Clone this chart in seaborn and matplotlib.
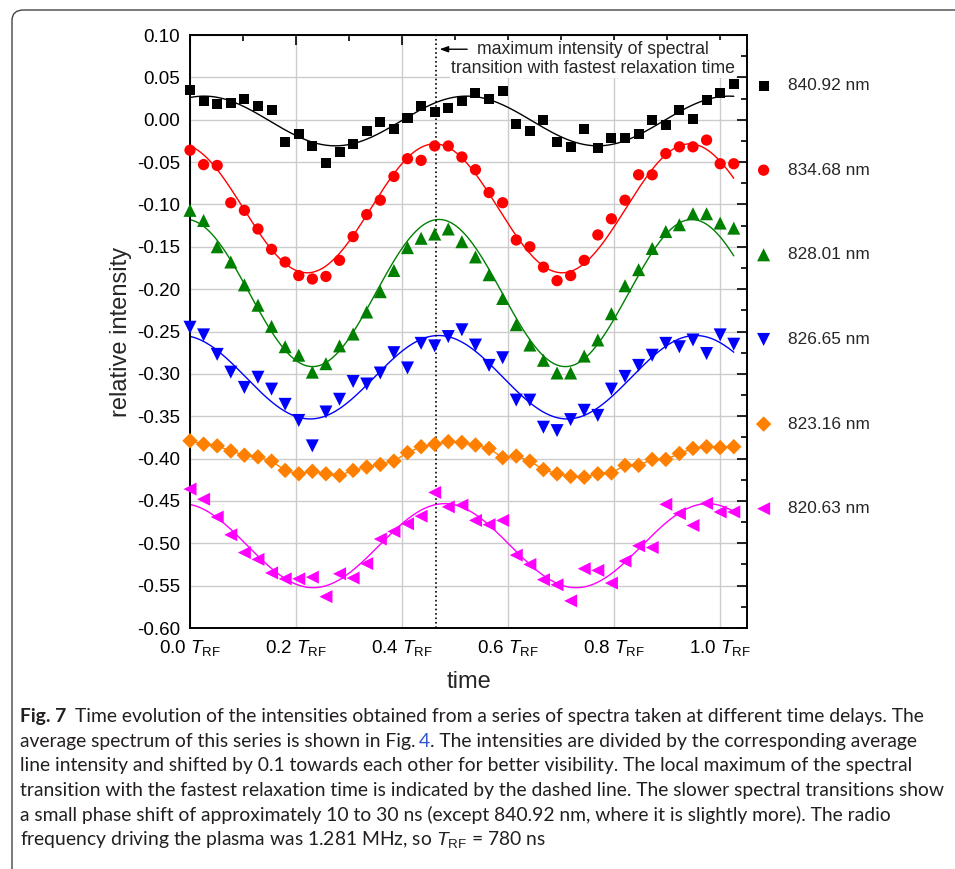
import numpy as np
import pandas as pd
import matplotlib
matplotlib.use('Agg')
import matplotlib.pyplot as plt
import seaborn as sns
from matplotlib.patches import FancyBboxPatch
from matplotlib.ticker import MultipleLocator, FixedLocator, FuncFormatter

# time delays of the spectra series (ns), T_RF = 780 ns
delay_ns = [0, 20, 40, 60, 80, 100, 120, 140, 160, 180, 200, 220, 240, 260, 280, 300,
            320, 340, 360, 380, 400, 420, 440, 460, 480, 500, 520, 540, 560, 580, 600,
            620, 640, 660, 680, 700, 720, 740, 760, 780, 800]
T_RF = 780.0

# relative intensities (already shifted by 0.1 towards each other)
i_840 = [0.035, 0.022, 0.0185, 0.020, 0.025, 0.0165, 0.012, -0.026, -0.017, -0.031, -0.051,
         -0.038, -0.029, -0.013, -0.0025, -0.011, 0.0025, 0.016, 0.0095, 0.014, 0.022, 0.032,
         0.024, 0.034, -0.005, -0.013, 0.0, -0.026, -0.032, -0.011, -0.033, -0.022, -0.022,
         -0.017, 0.0, -0.006, 0.0115, 0.001, 0.023, 0.032, 0.042]
i_834 = [-0.036, -0.053, -0.054, -0.098, -0.107, -0.129, -0.153, -0.168, -0.184, -0.188, -0.185,
         -0.166, -0.138, -0.112, -0.095, -0.067, -0.046, -0.048, -0.031, -0.031, -0.044, -0.059,
         -0.086, -0.098, -0.142, -0.150, -0.174, -0.190, -0.184, -0.166, -0.136, -0.117, -0.095,
         -0.065, -0.065, -0.040, -0.032, -0.032, -0.024, -0.052, -0.052]
i_828 = [-0.107, -0.119, -0.150, -0.168, -0.195, -0.219, -0.244, -0.268, -0.278, -0.298, -0.288,
         -0.267, -0.253, -0.227, -0.203, -0.178, -0.151, -0.140, -0.135, -0.129, -0.144, -0.162,
         -0.183, -0.211, -0.242, -0.266, -0.284, -0.299, -0.299, -0.279, -0.260, -0.229, -0.196,
         -0.177, -0.152, -0.132, -0.124, -0.111, -0.111, -0.122, -0.128]
i_826 = [-0.245, -0.254, -0.277, -0.298, -0.316, -0.304, -0.318, -0.336, -0.355, -0.385, -0.345,
         -0.330, -0.309, -0.312, -0.299, -0.275, -0.293, -0.264, -0.267, -0.256, -0.248, -0.266,
         -0.290, -0.281, -0.331, -0.331, -0.363, -0.367, -0.354, -0.343, -0.349, -0.318, -0.303,
         -0.290, -0.278, -0.264, -0.268, -0.260, -0.276, -0.254, -0.265]
i_823 = [-0.379, -0.383, -0.385, -0.391, -0.396, -0.398, -0.403, -0.414, -0.418, -0.415, -0.418,
         -0.420, -0.414, -0.410, -0.407, -0.403, -0.393, -0.386, -0.383, -0.380, -0.381, -0.384,
         -0.388, -0.399, -0.397, -0.403, -0.413, -0.418, -0.421, -0.422, -0.418, -0.417, -0.408,
         -0.408, -0.401, -0.401, -0.394, -0.388, -0.386, -0.387, -0.386]
i_820 = [-0.436, -0.448, -0.469, -0.490, -0.511, -0.519, -0.535, -0.542, -0.542, -0.540, -0.563,
         -0.536, -0.541, -0.524, -0.495, -0.486, -0.477, -0.468, -0.440, -0.457, -0.455, -0.473,
         -0.478, -0.473, -0.514, -0.525, -0.543, -0.549, -0.568, -0.530, -0.532, -0.547, -0.521,
         -0.503, -0.505, -0.454, -0.465, -0.479, -0.453, -0.463, -0.463]

labels = ['840.92 nm', '834.68 nm', '828.01 nm', '826.65 nm', '823.16 nm', '820.63 nm']
series = [i_840, i_834, i_828, i_826, i_823, i_820]
colors = ['#000000', '#ff0000', '#008000', '#0000ff', '#ff8000', '#ff00ff']
markers = ['s', 'o', '^', 'v', 'D', '<']
sizes = [52, 66, 88, 88, 62, 88]
fitted = [True, True, True, True, False, True]

x_ticks = [0.0, 0.2, 0.4, 0.6, 0.8, 1.0]
t_fast_max = 0.4635   # max of fastest transition (dotted line)


#----------------------------------
def sine_fit(t, y):
#----------------------------------
    # least squares fit y = a + b sin(2 pi t/P) + c cos(2 pi t/P), P searched on a grid
    best = None
    for P in np.linspace(0.40, 0.60, 201):
        A = np.column_stack([np.ones_like(t), np.sin(2*np.pi*t/P), np.cos(2*np.pi*t/P)])
        coef, res, _, _ = np.linalg.lstsq(A, y, rcond=None)
        r = np.sum((A @ coef - y)**2)
        if best is None or r < best[0]:
            best = (r, P, coef)
    _, P, coef = best
    tf = np.linspace(t.min(), t.max(), 400)
    yf = coef[0] + coef[1]*np.sin(2*np.pi*tf/P) + coef[2]*np.cos(2*np.pi*tf/P)
    return tf, yf


def fmt_y(v, pos):
    v = round(v, 3)
    if abs(v) < 1e-9:
        v = 0.0
    return f"{v:.2f}"


sns.set_style("white")
plt.rcParams['font.family'] = ['Liberation Sans', 'DejaVu Sans']
plt.rcParams['axes.unicode_minus'] = False
plt.rcParams['mathtext.fontset'] = 'custom'
plt.rcParams['mathtext.rm'] = 'Liberation Sans'
plt.rcParams['mathtext.it'] = 'Liberation Sans:italic'

W, H = 955, 869
fig = plt.figure(figsize=(W/100, H/100), dpi=100)
ax = fig.add_axes([190/W, 1 - 628/H, (747 - 190)/W, (628 - 35)/H])

t = np.array(delay_ns) / T_RF

for vals, lab, c, m, s, do_fit in zip(series, labels, colors, markers, sizes, fitted):
    y = np.array(vals)
    if do_fit:
        tf, yf = sine_fit(t, y)
    else:
        tf, yf = t, y
    sns.lineplot(x=tf, y=yf, color=c, linewidth=1.0, ax=ax, legend=False,
                 estimator=None, sort=False, zorder=2)
    sns.scatterplot(x=t, y=y, marker=m, s=s, color=c, linewidth=0, edgecolor='none',
                    ax=ax, label=lab, clip_on=False, zorder=3)

# dotted line + annotation
ax.axvline(t_fast_max, color='black', linestyle=':', linewidth=1.2, zorder=2.5)
ax.annotate('', xy=(t_fast_max + 0.002, 0.0832), xytext=(0.528, 0.0832),
            arrowprops=dict(arrowstyle='-|>,head_length=0.5,head_width=0.18', color='black', lw=1))
ax.text(0.760, 0.0715, 'maximum intensity of spectral\ntransition with fastest relaxation time',
        ha='center', va='center', multialignment='center', fontsize=12.7, linespacing=1.2,
        bbox=dict(facecolor='white', edgecolor='none', pad=0.5), zorder=2.6)

# axes
ax.set_xlim(0.0, 1.0506)
ax.set_ylim(-0.60, 0.10)
ax.xaxis.set_major_locator(FixedLocator(x_ticks))
ax.xaxis.set_minor_locator(MultipleLocator(0.1))
ax.set_xticklabels([f"{v:.1f} $T_\\mathrm{{RF}}$" for v in x_ticks])
ax.yaxis.set_major_locator(MultipleLocator(0.05))
ax.yaxis.set_minor_locator(MultipleLocator(0.025))
ax.yaxis.set_major_formatter(FuncFormatter(fmt_y))
ax.tick_params(which='both', direction='in', top=True, right=True, width=1.2, colors='black')
ax.tick_params(which='major', length=7, labelsize=13.5, pad=7)
ax.tick_params(which='minor', length=4)
for sp in ax.spines.values():
    sp.set_linewidth(1.4)
    sp.set_color('black')
ax.grid(True, which='major', color='#cccccc', linewidth=1.0)
ax.set_axisbelow(True)

ax.set_ylabel('relative intensity', fontsize=17)
ax.set_xlabel('time', fontsize=17)
ax.yaxis.set_label_coords((132 - 190)/557, 0.5)
ax.xaxis.set_label_coords(0.5, (628 - 671)/593)

# legend on the right
handles, labs = ax.get_legend_handles_labels()
if ax.get_legend() is not None:
    ax.get_legend().remove()
fig.legend(handles, labs, loc='upper left', bbox_to_anchor=(755/W, 1 - 78/H),
           frameon=False, fontsize=12.4, handlelength=1.0, handletextpad=0.9,
           labelspacing=4.04, borderpad=0, borderaxespad=0, scatterpoints=1)

# frame around figure + caption
fig.patches.append(FancyBboxPatch((12/W, -0.05), 1.2, 1 - 10/H + 0.05,
                                  boxstyle='round,pad=0,rounding_size=0.012',
                                  transform=fig.transFigure, fill=False,
                                  edgecolor='#444444', linewidth=1.0))

cap_font = ['Lato', 'DejaVu Sans']
cap_color = '#231f20'
cap_lines = [
    [('Fig. 7', 'bold', cap_color), ('Time evolution of the intensities obtained from a series of spectra taken at different time delays. The', 'normal', cap_color)],
    [('average spectrum of this series is shown in Fig.', 'normal', cap_color), ('4', 'normal', '#3355cc'), ('. The intensities are divided by the corresponding average', 'normal', cap_color)],
    [('line intensity and shifted by 0.1 towards each other for better visibility. The local maximum of the spectral', 'normal', cap_color)],
    [('transition with the fastest relaxation time is indicated by the dashed line. The slower spectral transitions show', 'normal', cap_color)],
    [('a small phase shift of approximately 10 to 30 ns (except 840.92 nm, where it is slightly more). The radio', 'normal', cap_color)],
    [('frequency driving the plasma was 1.281 MHz, so $T_\\mathrm{RF}$ = 780 ns', 'normal', cap_color)],
]
gaps = [[0, 9], [0, 3, 0], [0], [0], [0], [0]]
baselines = [722, 747, 771, 796, 821, 845]

# fit caption font size to the longest line width
renderer = fig.canvas.get_renderer()
probe = fig.text(0, 0, cap_lines[3][0][0], fontsize=12, family=cap_font)
w12 = probe.get_window_extent(renderer).width
probe.remove()
cap_size = 12 * (921 / w12)

for line, gap, yb in zip(cap_lines, gaps, baselines):
    x = 20
    for (txt, weight, col), g in zip(line, gap):
        x += g
        tt = fig.text(x/W, 1 - yb/H, txt, fontsize=cap_size, family=cap_font,
                      weight=weight, color=col, va='baseline', ha='left')
        x = tt.get_window_extent(renderer).x1

fig.savefig('out.png', dpi=100)
